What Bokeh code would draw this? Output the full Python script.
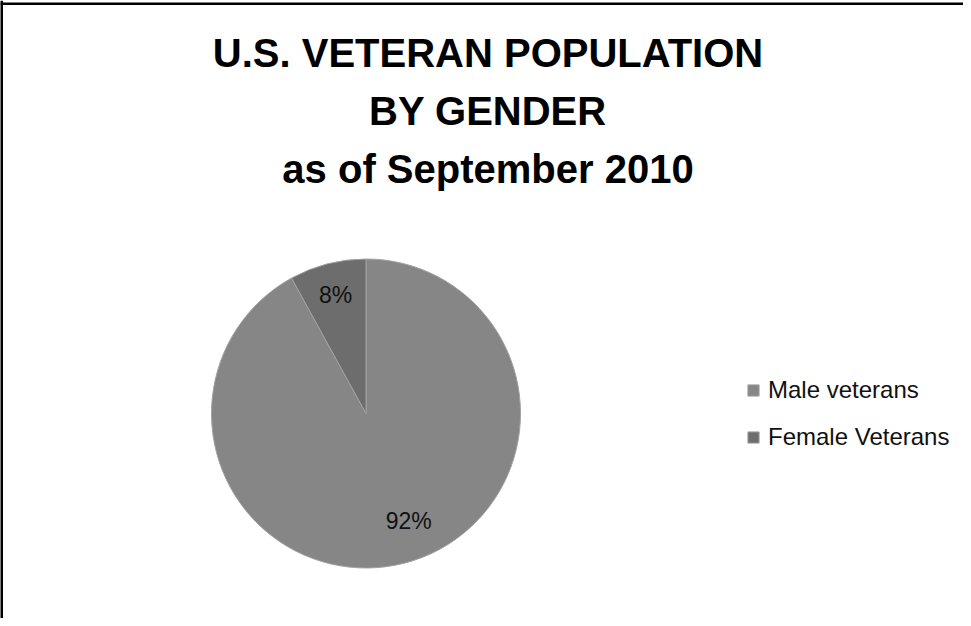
import math
from bokeh.plotting import figure
from bokeh.models import ColumnDataSource, Range1d, Legend, LegendItem, Span
from bokeh.core.properties import value
from bokeh.embed import file_html
from bokeh.resources import INLINE

# ---- data ----
categories = ["Male veterans", "Female Veterans"]
shares = [92, 8]
pct_labels = ["92%", "8%"]
title_lines = ["U.S. VETERAN POPULATION", "BY GENDER", "as of September 2010"]

# ---- styles / layout ----
slice_colors = ["#868686", "#6d6d6d"]
W, H = 963, 618
cx, cy, R = 365.5, 205.0, 154.5
FONT = "Liberation Sans"

total = float(sum(shares))
starts, ends, lx, ly = [], [], [], []
label_frac = [0.72, 0.79]
label_dx = [15, 0]
cum = 0.0
for i, s in enumerate(shares):
    f = s / total
    a0 = math.pi / 2 - cum * 2 * math.pi
    a1 = math.pi / 2 - (cum + f) * 2 * math.pi
    mid = math.pi / 2 - (cum + f / 2) * 2 * math.pi
    starts.append(a0)
    ends.append(a1)
    lx.append(cx + label_frac[i] * R * math.cos(mid))
    ly.append(cy + label_frac[i] * R * math.sin(mid))
    cum += f

src = ColumnDataSource(dict(cat=categories, share=shares, start=starts, end=ends,
                            color=slice_colors, lx=lx, ly=ly, lab=pct_labels,
                            dx=label_dx))

p = figure(width=W, height=H, output_backend="svg", toolbar_location=None,
           x_range=Range1d(0, W), y_range=Range1d(0, H),
           min_border=0, min_border_left=0, min_border_right=0,
           min_border_top=0, min_border_bottom=0)
p.axis.visible = False
p.grid.visible = False
p.outline_line_color = None
p.background_fill_color = "white"
p.border_fill_color = "white"

wr = p.wedge(x=cx, y=cy, radius=R, start_angle="start", end_angle="end",
             direction="clock", fill_color="color", line_color="#a2a2a2",
             line_width=1, source=src)

p.text(x="lx", y="ly", text="lab", source=src, x_offset="dx", text_align="center",
       text_baseline="middle", text_font=value(FONT), text_font_size="23px",
       text_color="#111111")

# title lines
tsrc = ColumnDataSource(dict(x=[487.5] * 3, y=[565.5, 507.6, 449.7], t=title_lines))
p.text(x="x", y="y", text="t", source=tsrc, text_align="center",
       text_baseline="middle", text_font=value(FONT), text_font_style="bold",
       text_font_size="40px", text_color="#000000")

# frame border (top and left only visible)
p.add_layout(Span(location=1.0, dimension="height", line_color="black", line_width=3))
p.add_layout(Span(location=H - 3.3, dimension="width", line_color="black", line_width=2.5))

legend = Legend(items=[LegendItem(label=categories[i], renderers=[wr], index=i)
                       for i in range(len(categories))],
                location=(746, 167), orientation="vertical", padding=0, margin=0,
                spacing=19, glyph_width=14, glyph_height=14, label_standoff=8,
                label_text_font=FONT, label_text_font_size="24px",
                label_text_color="#111111", label_height=24,
                background_fill_alpha=0, border_line_color=None)
p.add_layout(legend)

open("out.html", "w").write(file_html(p, INLINE))
